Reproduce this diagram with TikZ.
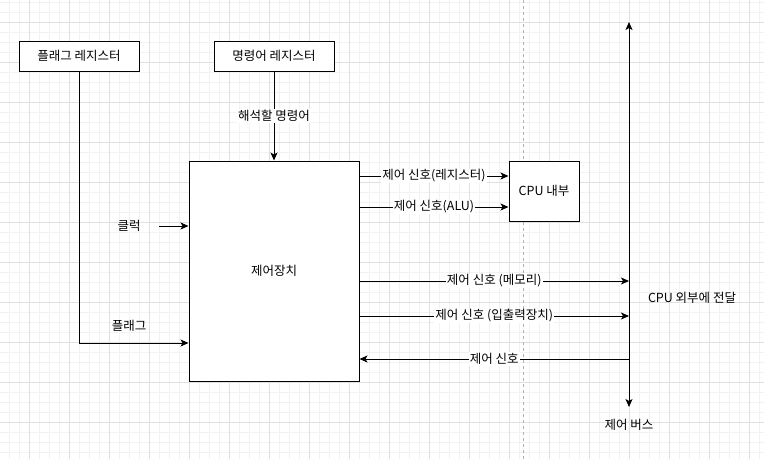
\documentclass[tikz,border=0pt]{standalone}
\usepackage{fontspec}
\setmainfont{Noto Sans CJK KR}
\usetikzlibrary{arrows.meta}
\begin{document}
\begin{tikzpicture}[x=1pt,y=-1pt,
  box/.style={draw, line width=1pt, fill=white, inner sep=0pt, font=\fontsize{12.5}{14}\selectfont},
  lbl/.style={fill=white, inner sep=1pt, font=\fontsize{12.5}{14}\selectfont},
  txt/.style={inner sep=0pt, font=\fontsize{12.5}{14}\selectfont},
  conn/.style={line width=1pt, -{Stealth[length=8pt,width=7pt,inset=2pt]}},
  minorgrid/.style={line width=0.8pt, black!5},
  majorgrid/.style={line width=0.8pt, black!12},
]
\fill[white] (0,0) rectangle (764,459);
\useasboundingbox (0,0) rectangle (764,459);
% grid
\foreach \x in {9,19,...,759} \draw[minorgrid] (\x,0) -- (\x,459);
\foreach \y in {2,12,...,452} \draw[minorgrid] (0,\y) -- (764,\y);
\foreach \x in {29,69,...,749} \draw[majorgrid] (\x,0) -- (\x,459);
\foreach \y in {22,62,...,422} \draw[majorgrid] (0,\y) -- (764,\y);
% page break line
\draw[line width=0.8pt, black!30, dash pattern=on 3pt off 3pt] (523,0) -- (523,459);

% nodes
\node[box, minimum width=120pt, minimum height=30pt] (flag) at (79,56) {플래그 레지스터};
\node[box, minimum width=120pt, minimum height=30pt] (ireg) at (274,56) {명령어 레지스터};
\node[box, minimum width=170pt, minimum height=220pt] (cu) at (274,271) {제어장치};
\node[box, minimum width=70pt, minimum height=60pt] (cpu) at (544,191) {CPU 내부};

% control bus
\coordinate (bt) at (629,22);
\coordinate (bb) at (629,407);
\draw[line width=1pt, {Stealth[length=8pt,width=7pt,inset=2pt]}-{Stealth[length=8pt,width=7pt,inset=2pt]}] (bt) -- (bb);
\node[txt] (ext) at (692,298) {CPU 외부에 전달};
\node[txt] (busl) at (629,425) {제어 버스};

% inputs
\node[txt] (clk) at (129,226) {클럭};
\coordinate (clks) at (159,226);
\draw[conn] (clks) -- (cu.west |- clks);
\node[txt] (flagl) at (129,326) {플래그};
\coordinate (fy) at (0,343);
\draw[conn] (flag.south) |- (cu.west |- fy);
\draw[conn] (ireg) -- node[lbl] {해석할 명령어} (cu);

% outputs to CPU internal
\coordinate (r1) at (0,176);
\coordinate (r2) at (0,207);
\draw[conn] (cu.east |- r1) -- node[lbl] {제어 신호(레지스터)} (cpu.west |- r1);
\draw[conn] (cu.east |- r2) -- node[lbl] {제어 신호(ALU)} (cpu.west |- r2);

% outputs to bus
\coordinate (m1) at (0,281);
\coordinate (m2) at (0,316);
\coordinate (m3) at (0,359);
\draw[conn] (cu.east |- m1) -- node[lbl] {제어 신호 (메모리)} (bt |- m1);
\draw[conn] (cu.east |- m2) -- node[lbl] {제어 신호 (입출력장치)} (bt |- m2);
\draw[conn] (bt |- m3) -- node[lbl] {제어 신호} (cu.east |- m3);
\end{tikzpicture}
\end{document}
